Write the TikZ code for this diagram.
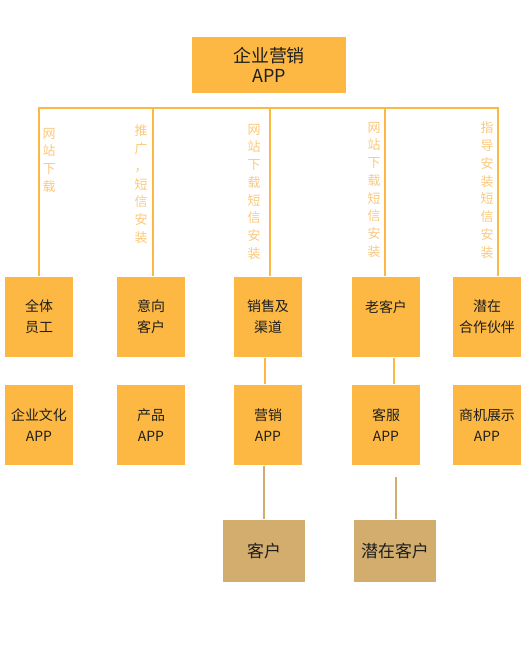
\documentclass[tikz,border=0pt]{standalone}
\usepackage{fontspec}
\setmainfont{Noto Sans CJK SC}
\definecolor{appyel}{HTML}{FDB843}
\definecolor{apptan}{HTML}{D2AD6E}
\definecolor{applbl}{HTML}{FBC87C}
\definecolor{apptxt}{HTML}{1E1E1E}

\begin{document}
\begin{tikzpicture}[x=1bp,y=-1bp,line width=2bp,
  box/.style={fill=appyel,text=apptxt,inner sep=0pt,align=center,
    minimum width=68bp,minimum height=80bp,font=\fontsize{14}{21}\selectfont},
  topbox/.style={box,minimum width=154bp,minimum height=56bp,font=\fontsize{18}{20}\selectfont},
  endbox/.style={box,fill=apptan,minimum width=82bp,minimum height=62bp,font=\fontsize{17}{20}\selectfont},
  vlabel/.style={text=applbl,anchor=north,inner sep=0pt,align=center,font=\fontsize{13}{17.8}\selectfont},
  bar/.style={draw=appyel},
  tanline/.style={draw=apptan,line width=1.5bp}]
  \useasboundingbox (0,0) rectangle (530,658);

  % top
  \node[topbox] (app) at (269,65) {企业营销\\APP};

  % first row
  \node[box] (b1) at (39,317) {全体\\员工};
  \node[box] (b2) at (151,317) {意向\\客户};
  \node[box] (b3) at (268,317) {销售及\\渠道};
  \node[box] (b4) at (386,317) {老客户\\\mbox{}};
  \node[box] (b5) at (487,317) {潜在\\合作伙伴};

  % second row
  \node[box] (c1) at (39,425) {企业文化\\APP};
  \node[box] (c2) at (151,425) {产品\\APP};
  \node[box] (c3) at (268,425) {营销\\APP};
  \node[box] (c4) at (386,425) {客服\\APP};
  \node[box] (c5) at (487,425) {商机展示\\APP};

  % third row
  \node[endbox] (d1) at (264,551) {客户};
  \node[endbox] (d2) at (395,551) {潜在客户};

  % bar and drops
  \coordinate (t1) at (39,108);
  \coordinate (t2) at (153,108);
  \coordinate (t3) at (270,108);
  \coordinate (t4) at (385,108);
  \coordinate (t5) at (498,108);
  \draw[bar] ([xshift=-1bp]t1) -- ([xshift=1bp]t5);
  \foreach \i in {1,...,5}
    \draw[bar] (t\i) -- (t\i |- b\i.north);

  % vertical labels
  \node[vlabel] (l1) at (49,127) {网\\站\\下\\载};
  \node[vlabel] (l2) at (141,124) {推\\广\\，\\短\\信\\安\\装};
  \node[vlabel] (l3) at (254,123) {网\\站\\下\\载\\短\\信\\安\\装};
  \node[vlabel] (l4) at (374,121) {网\\站\\下\\载\\短\\信\\安\\装};
  \node[vlabel] (l5) at (487,121) {指\\导\\安\\装\\短\\信\\安\\装};

  % lower links
  \draw[bar] ([xshift=-3bp]b3.south) -- ([xshift=-3bp]c3.north);
  \draw[bar] ([xshift=8bp]b4.south) -- ([xshift=8bp]c4.north);
  \draw[tanline] (d1 |- c3.south) -- (d1.north);
  \coordinate (d2top) at (396,477);
  \draw[tanline] (d2top) -- (d2top |- d2.north);
\end{tikzpicture}
\end{document}
